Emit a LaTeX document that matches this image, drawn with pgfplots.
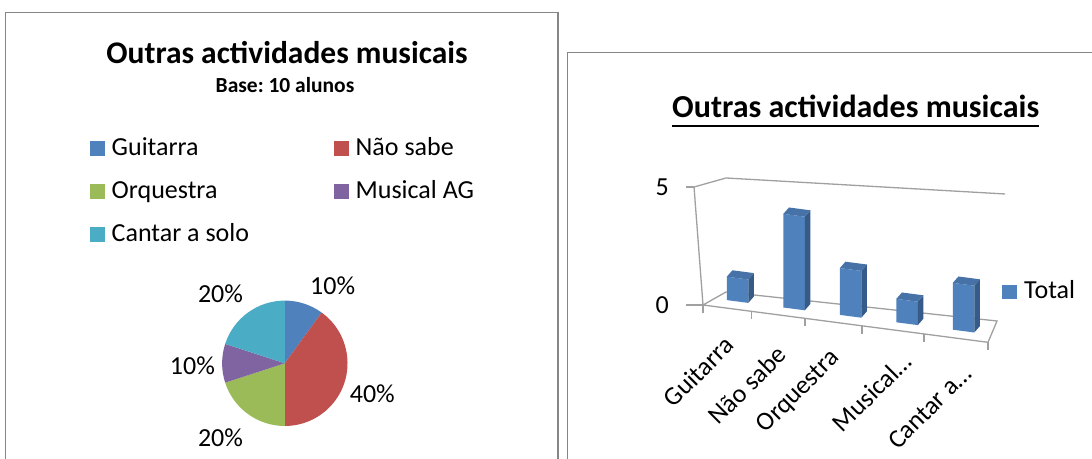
\documentclass[border=0pt]{standalone}
\usepackage{pgfplots}
\pgfplotsset{compat=1.18}
\usepackage{fontspec}
\setmainfont{Carlito}
\frenchspacing
\definecolor{cBlue}{RGB}{79,129,189}
\definecolor{cRed}{RGB}{192,80,77}
\definecolor{cGreen}{RGB}{155,187,89}
\definecolor{cPurple}{RGB}{128,100,162}
\definecolor{cCyan}{RGB}{75,172,198}
\definecolor{cTop}{RGB}{70,114,168}
\definecolor{cSide}{RGB}{55,91,136}
\definecolor{frameGray}{RGB}{134,134,134}
\definecolor{wallGray}{RGB}{160,160,160}
\newcommand{\fs}[1]{\fontsize{#1bp}{#1bp}\selectfont}
% one 3-D column: #1 = category position, #2 = value
\newcommand{\tdbar}[2]{%
  \pgfmathsetmacro{\xa}{#1-0.19}%
  \pgfmathsetmacro{\xb}{#1+0.19}%
  \addplot3[fill=cBlue, draw=none] coordinates {(\xa,0.45,0) (\xb,0.45,0) (\xb,0.45,#2) (\xa,0.45,#2)};
  \addplot3[fill=cSide, draw=none] coordinates {(\xb,0.45,0) (\xb,0.85,0) (\xb,0.85,#2) (\xb,0.45,#2)};
  \addplot3[fill=cTop, draw=none] coordinates {(\xa,0.45,#2) (\xb,0.45,#2) (\xb,0.85,#2) (\xa,0.85,#2)};
}
\begin{document}
\begin{tikzpicture}[x=1bp,y=1bp]
\useasboundingbox (0,0) rectangle (1092,459);
% ---------- frames
\draw[frameGray, line width=1.6bp] (5.4,0) -- (5.4,446.3) -- (558,446.3) -- (558,0);
\draw[frameGray, line width=1.6bp] (567.5,0) -- (567.5,406.5) -- (1092,406.5);

% ================= LEFT: pie chart =================
\node[font=\bfseries\fs{31.5}, anchor=base, inner sep=0] at (287,395) {Outras actividades musicais};
\node[font=\bfseries\fs{21.5}, anchor=base, inner sep=0] at (285,366) {Base: 10 alunos};

% legend
\fill[cBlue]   (90,303) rectangle (105,318);
\node[font=\fs{26}, anchor=base west, inner sep=0] at (111.5,303) {Guitarra};
\fill[cRed]    (334,303) rectangle (349,318);
\node[font=\fs{26}, anchor=base west, inner sep=0] at (355.5,303) {Não sabe};
\fill[cGreen]  (90,260) rectangle (105,275);
\node[font=\fs{26}, anchor=base west, inner sep=0] at (111.5,260) {Orquestra};
\fill[cPurple] (334,260) rectangle (349,275);
\node[font=\fs{26}, anchor=base west, inner sep=0] at (355.5,260) {Musical AG};
\fill[cCyan]   (90,217) rectangle (105,232);
\node[font=\fs{26}, anchor=base west, inner sep=0] at (111.5,217) {Cantar a solo};

\begin{axis}[hide axis, x=1bp, y=1bp, xmin=-100, xmax=100, ymin=-100, ymax=100,
  anchor=center, at={(284.8bp,95.7bp)}, clip=false]
% shares (percent): Guitarra 10, Não sabe 40, Orquestra 20, Musical AG 10, Cantar a solo 20
\fill[cBlue]   (axis cs:0,0) -- ++(90:62.7bp)   arc[start angle=90,   delta angle=-3.6*10, radius=62.7bp] -- cycle;
\fill[cRed]    (axis cs:0,0) -- ++(54:62.7bp)   arc[start angle=54,   delta angle=-3.6*40, radius=62.7bp] -- cycle;
\fill[cGreen]  (axis cs:0,0) -- ++(-90:62.7bp)  arc[start angle=-90,  delta angle=-3.6*20, radius=62.7bp] -- cycle;
\fill[cPurple] (axis cs:0,0) -- ++(-162:62.7bp) arc[start angle=-162, delta angle=-3.6*10, radius=62.7bp] -- cycle;
\fill[cCyan]   (axis cs:0,0) -- ++(-198:62.7bp) arc[start angle=-198, delta angle=-3.6*20, radius=62.7bp] -- cycle;
\node[font=\fs{26}] at (axis cs:47.9,77.3)  {10\%};
\node[font=\fs{26}] at (axis cs:87.5,-30.2) {40\%};
\node[font=\fs{26}] at (axis cs:-64.3,-74.7) {20\%};
\node[font=\fs{26}] at (axis cs:-92.4,-2)   {10\%};
\node[font=\fs{26}] at (axis cs:-64.3,70)   {20\%};
\end{axis}

% ================= RIGHT: 3-D column chart =================
\node (rt) [font=\bfseries\fs{32}, anchor=base west, inner sep=0] at (672,341) {Outras actividades musicais};
\draw[line width=2bp] ([yshift=-8.5bp]rt.base west) -- ([yshift=-8.5bp]rt.base east);

\fill[cBlue] (1002,160) rectangle (1017,174);
\node[font=\fs{26}, anchor=base west, inner sep=0] at (1024,160) {Total};

\begin{axis}[hide axis, x={(56.5bp,-7.4bp)}, y={(14bp,16bp)}, z={(0bp,23.4bp)},
  xmin=-0.5, xmax=4.5, ymin=0, ymax=1, zmin=0, zmax=5,
  anchor=origin, at={(731.25bp,150.3bp)}, clip=false]
% walls and floor
\addplot3[wallGray, line width=1.3bp] coordinates {(-0.5,0,0) (-0.659,0,4.992) (-0.341,1,4.794) (4.597,1,5.672)};
\addplot3[wallGray, line width=1.3bp] coordinates {(-0.5,0,0) (-0.341,1,-0.078) (4.456,1,0.2) (4.544,0,0) (-0.5,0,0)};
% value-axis ticks
\draw[wallGray, line width=1.3bp] (axis cs:-0.5,0,0) -- ++(-17bp,0bp);
\draw[wallGray, line width=1.3bp] (axis cs:-0.659,0,4.992) -- ++(-8bp,0bp);
\node[font=\fs{26}, anchor=east, inner sep=0] at ([xshift=-34bp]axis cs:-0.5,0,0) {0};
\node[font=\fs{26}, anchor=east, inner sep=0] at ([xshift=-25bp]axis cs:-0.659,0,4.992) {5};
% category ticks
\draw[wallGray, line width=1.3bp] (axis cs:-0.5,0,0) -- ++(0bp,-8bp);
\draw[wallGray, line width=1.3bp] (axis cs:0.358,0,0) -- ++(0bp,-8bp);
\draw[wallGray, line width=1.3bp] (axis cs:1.305,0,0) -- ++(0bp,-8bp);
\draw[wallGray, line width=1.3bp] (axis cs:2.314,0,0) -- ++(0bp,-8bp);
\draw[wallGray, line width=1.3bp] (axis cs:3.411,0,0) -- ++(0bp,-8bp);
\draw[wallGray, line width=1.3bp] (axis cs:4.544,0,0) -- ++(0bp,-8bp);
% columns: Guitarra 1, Não sabe 4, Orquestra 2, Musical AG 1, Cantar a solo 2
\tdbar{0}{1}
\tdbar{1}{4}
\tdbar{2}{2}
\tdbar{3}{1}
\tdbar{4}{2}
% category labels
\node[font=\fs{26}, anchor=east, rotate=45, inner sep=0] at ([xshift=-2bp,yshift=-32bp]axis cs:0,0,0) {Guitarra};
\node[font=\fs{26}, anchor=east, rotate=45, inner sep=0] at ([xshift=-6bp,yshift=-34bp]axis cs:1,0,0) {Não sabe};
\node[font=\fs{26}, anchor=east, rotate=45, inner sep=0] at ([xshift=-8bp,yshift=-31bp]axis cs:2,0,0) {Orquestra};
\node[font=\fs{26}, anchor=east, rotate=45, inner sep=0] at ([xshift=6bp,yshift=-26bp]axis cs:3,0,0) {Musical…};
\node[font=\fs{26}, anchor=east, rotate=45, inner sep=0] at ([xshift=10bp,yshift=-31bp]axis cs:4,0,0) {Cantar a…};
\end{axis}
\end{tikzpicture}
\end{document}
